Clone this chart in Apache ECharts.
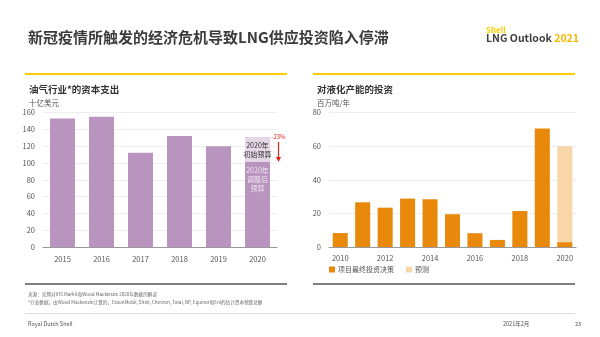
<!DOCTYPE html>
<html><head><meta charset="utf-8">
<script src="https://cdn.jsdelivr.net/npm/echarts@6/dist/echarts.min.js"></script>
<style>html,body{margin:0;padding:0;background:#fff}#c{width:600px;height:337px}</style>
</head><body><div id="c"></div>
<script>
const capexYears = ['2015','2016','2017','2018','2019','2020'];
const capexActual = [153, 155, 112, 132, 120, 101];
const capexInitial = [null, null, null, null, null, 131];
const capexTicks = [0, 20, 40, 60, 80, 100, 120, 140, 160];

const lngYears = ['2010','2011','2012','2013','2014','2015','2016','2017','2018','2019','2020'];
const lngFID = [8.3, 26.6, 23.4, 28.8, 28.4, 19.5, 8.2, 4.2, 21.4, 70.5, 2.8];
const lngForecast = [null, null, null, null, null, null, null, null, null, null, 60];
const lngTicks = [0, 20, 40, 60, 80];

const FONT = '"Noto Sans CJK SC", "Noto Sans", sans-serif';
const chart = echarts.init(document.getElementById('c'), null, {renderer: 'canvas'});

const axisLabel = {color: '#555', fontSize: 7.5, fontFamily: FONT};
const option = {
  animation: false,
  textStyle: {fontFamily: FONT},
  title: [
    {text: '新冠疫情所触发的经济危机导致LNG供应投资陷入停滞', left: 23, top: 25,
     textStyle: {fontSize: 15, fontWeight: 'bold', color: '#3c3c3c', fontFamily: FONT}},
    {text: '油气行业*的资本支出', left: 24, top: 80,
     textStyle: {fontSize: 9.5, fontWeight: 'bold', color: '#333', fontFamily: FONT}},
    {text: '十亿美元', left: 24, top: 94,
     textStyle: {fontSize: 7.5, fontWeight: 'normal', color: '#555', fontFamily: FONT}},
    {text: '对液化产能的投资', left: 312, top: 80,
     textStyle: {fontSize: 9.5, fontWeight: 'bold', color: '#333', fontFamily: FONT}},
    {text: '百万吨/年', left: 312, top: 94,
     textStyle: {fontSize: 7.5, fontWeight: 'normal', color: '#555', fontFamily: FONT}},
    {text: '来源：壳牌对IHS Markit和Wood Mackenzie 2020年数据的解读\n*行业数据，由Wood Mackenzie计算的，ExxonMobil, Shell, Chevron, Total, BP, Equinor和Eni的估计资本预算总额',
     left: 23, top: 285,
     textStyle: {fontSize: 4.6, lineHeight: 8, fontWeight: 'normal', color: '#666', fontFamily: FONT}},
    {text: 'Royal Dutch Shell', left: 23, top: 316,
     textStyle: {fontSize: 5.5, fontWeight: 'normal', color: '#555', fontFamily: FONT}},
    {text: '2021年2月', left: 498, top: 316,
     textStyle: {fontSize: 5.5, fontWeight: 'normal', color: '#555', fontFamily: FONT}},
    {text: '23', left: 570, top: 316,
     textStyle: {fontSize: 5.5, fontWeight: 'normal', color: '#555', fontFamily: FONT}}
  ],
  legend: {
    left: 324, top: 261, itemWidth: 6, itemHeight: 6, itemGap: 12, icon: 'rect',
    data: ['项目最终投资决策', '预测'],
    textStyle: {fontSize: 7, color: '#555', fontFamily: FONT, padding: [0, 0, 0, -2]}
  },
  grid: [
    {left: 43, right: 323, top: 112.5, bottom: 90},
    {left: 329, right: 24, top: 112.5, bottom: 90}
  ],
  xAxis: [
    {type: 'category', gridIndex: 0, data: capexYears,
     axisLine: {lineStyle: {color: '#999', width: 1.2}}, axisTick: {show: false},
     axisLabel: Object.assign({margin: 8}, axisLabel)},
    {type: 'category', gridIndex: 1, data: lngYears,
     axisLine: {lineStyle: {color: '#999', width: 1.2}}, axisTick: {show: false},
     axisLabel: Object.assign({margin: 7, interval: 1}, axisLabel)}
  ],
  yAxis: [
    {type: 'value', gridIndex: 0, min: capexTicks[0], max: capexTicks[capexTicks.length - 1], interval: 20,
     axisLine: {show: false}, axisTick: {show: false},
     splitLine: {lineStyle: {color: '#eeeeee', width: 1}},
     axisLabel: Object.assign({margin: 8}, axisLabel)},
    {type: 'value', gridIndex: 1, min: lngTicks[0], max: lngTicks[lngTicks.length - 1], interval: 20,
     axisLine: {show: false}, axisTick: {show: false},
     splitLine: {lineStyle: {color: '#eeeeee', width: 1}},
     axisLabel: Object.assign({margin: 8}, axisLabel)}
  ],
  series: [
    {name: '初始预算', type: 'bar', xAxisIndex: 0, yAxisIndex: 0, z: 1,
     data: capexInitial.map(v => v == null ? null : {value: v,
       label: {show: true, position: 'insideTop', distance: 4, formatter: '2020年\n初始预算',
               color: '#333', fontSize: 7, lineHeight: 9, fontFamily: FONT}}),
     barWidth: '64%', itemStyle: {color: '#E6D7E8'}},
    {name: '资本支出', type: 'bar', xAxisIndex: 0, yAxisIndex: 0, z: 2, barGap: '-100%',
     data: capexActual.map((v, i) => i === capexActual.length - 1 ? {value: v,
       label: {show: true, position: 'insideTop', distance: 4, formatter: '2020年\n调整后\n预算',
               color: '#F0E4F1', fontSize: 7, lineHeight: 9, fontFamily: FONT}} : v),
     barWidth: '64%', itemStyle: {color: '#B994BE'}},
    {name: '预测', type: 'bar', xAxisIndex: 1, yAxisIndex: 1, z: 1,
     data: lngForecast, barWidth: '67%', itemStyle: {color: '#F8D6A7'}},
    {name: '项目最终投资决策', type: 'bar', xAxisIndex: 1, yAxisIndex: 1, z: 2, barGap: '-100%',
     data: lngFID, barWidth: '67%', itemStyle: {color: '#E8890C'}}
  ]
};
chart.setOption(option);

// annotation lines and the -23% arrow derived from the chart's own scales
const last = capexYears.length - 1;
const pTop = chart.convertToPixel({gridIndex: 0}, [last, capexInitial[last]]);
const pBot = chart.convertToPixel({gridIndex: 0}, [last, capexActual[last]]);
const pct = Math.round((capexActual[last] / capexInitial[last] - 1) * 100);
const ax = pTop[0] + 21;
chart.setOption({
  graphic: [
    {type: 'line', shape: {x1: 25, y1: 74, x2: 287, y2: 74}, style: {stroke: '#FBCE07', lineWidth: 2.2}},
    {type: 'line', shape: {x1: 313, y1: 74, x2: 575, y2: 74}, style: {stroke: '#FBCE07', lineWidth: 2.2}},
    {type: 'line', shape: {x1: 25, y1: 284, x2: 287, y2: 284}, style: {stroke: '#555', lineWidth: 1.3}},
    {type: 'line', shape: {x1: 313, y1: 284, x2: 575, y2: 284}, style: {stroke: '#555', lineWidth: 1.3}},
    {type: 'line', shape: {x1: 25, y1: 313.5, x2: 575, y2: 313.5}, style: {stroke: '#dddddd', lineWidth: 1}},
    {type: 'text', left: 486, top: 26, style: {text: 'Shell', fill: '#FBCE07', font: 'bold 8px ' + FONT}},
    {type: 'text', left: 486, top: 33, style: {
      text: '{a|LNG Outlook }{b|2021}',
      rich: {a: {fill: '#404040', font: 'bold 10.5px ' + FONT}, b: {fill: '#F5B800', font: 'bold 10.5px ' + FONT}}}},
    {type: 'line', shape: {x1: ax, y1: pTop[1] + 5, x2: ax, y2: pBot[1] - 4}, style: {stroke: '#E2231A', lineWidth: 1.2}},
    {type: 'polygon', shape: {points: [[ax - 2.5, pBot[1] - 5], [ax + 2.5, pBot[1] - 5], [ax, pBot[1]]]}, style: {fill: '#E2231A'}},
    {type: 'text', x: ax, y: pTop[1], style: {text: pct + '%', fill: '#E2231A', font: '6px ' + FONT, textAlign: 'center', textVerticalAlign: 'middle'}}
  ]
});
</script></body></html>
